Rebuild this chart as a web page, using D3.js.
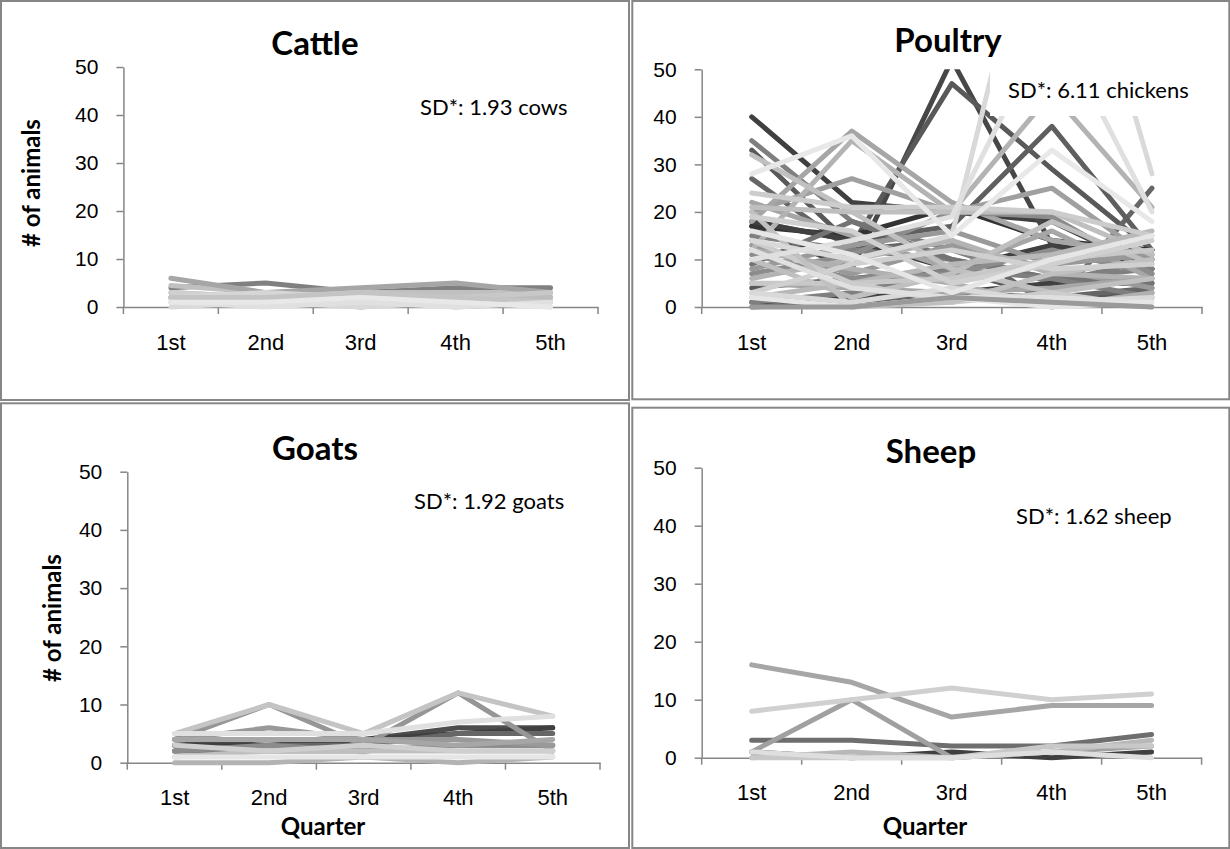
<!DOCTYPE html>
<html>
<head>
<meta charset="utf-8">
<script src="https://cdn.jsdelivr.net/npm/d3@7"></script>
<style>
  body { margin: 0; background: #fff; }
  svg { display: block; font-family: Lato, "Open Sans", sans-serif; }
</style>
</head>
<body>
<svg id="chart" width="1230" height="849"></svg>
<script>
var quarters = ["1st", "2nd", "3rd", "4th", "5th"];
var yTicks = [0, 10, 20, 30, 40, 50];

// one row per household, values per quarter
var cattle = [
  [4, 5, 3, 4, 4],
  [2, 2, 0, 2, 2],
  [3, 2, 2, 0, 1],
  [4.5, 3, 3, 3, 3],
  [6, 3, 4, 5, 3],
  [3, 2, 3, 1, 2],
  [2, 3, 2, 2, 1],
  [1, 2, 1, 2, 2],
  [2, 1, 1, 2, 3],
  [2, 2, 3, 2, 1],
  [0, 1, 0, 1, 0],
  [1, 0, 1, 0, 1],
  [1, 1, 2, 1, 0]
];
var poultry = [
  [40, 22, 20, 18, 8],
  [17, 8, 52, 13, 8],
  [33, 13, 47, 29, 12],
  [27, 12, 14, 0, 25],
  [35, 18, 12, 5, 10],
  [18, 14, 17, 38, 12],
  [17, 15, 21, 14, 12],
  [18, 14, 8, 13, 10],
  [15, 12, 10, 6, 8],
  [4, 6, 8, 2, 3],
  [1, 2, 3, 5, 5],
  [0, 1, 3, 2, 4],
  [9, 18, 10, 6, 5],
  [1, 3, 8, 6, 2],
  [11, 6, 7, 12, 7],
  [13, 7, 13, 8, 4],
  [20, 27, 20, 25, 10],
  [18, 37, 22, 14, 11],
  [22, 15, 8, 16, 6],
  [7, 11, 20, 19, 7],
  [8, 13, 16, 9, 11],
  [12, 35, 20, 45, 21],
  [6, 10, 14, 7, 6],
  [5, 4, 3, 4, 6],
  [12, 8, 5, 0, 3],
  [10, 2, 7, 18, 9],
  [21, 20, 20, 20, 11],
  [2, 5, 9, 11, 16],
  [32, 20, 8, 3, 6],
  [5, 5, 6, 10, 12],
  [24, 21, 21, 20, 15],
  [14, 5, 1, 3, 0],
  [20, 0, 1, 7, 10],
  [3, 9, 12, 8, 9],
  [19, 16, 5, 9, 14],
  [14, 10, 15, 100, 28],
  [3, 1, 4, 1, 2],
  [10, 14, 19, 61, 20],
  [12, 4, 2, 2, 1],
  [16, 11, 3, 10, 15],
  [2, 0, 2, 0, 1],
  [28, 36, 15, 33, 18],
  [0, 0, 2, 1, 0]
];
var goats = [
  [3, 4, 4, 6, 6],
  [3, 3, 4, 5, 6],
  [2, 3, 3, 5, 5],
  [2, 2, 2, 3, 3],
  [2, 3, 2, 3, 3],
  [4, 10, 3, 12, 2],
  [4, 6, 4, 4, 3],
  [4, 4, 4, 3, 4],
  [0, 0, 1, 0, 1],
  [1, 2, 2, 2, 2],
  [3, 2, 3, 2, 2],
  [5, 10, 5, 12, 8],
  [5, 5, 5, 7, 8],
  [1, 1, 1, 1, 1]
];
var sheep = [
  [1, 0, 1, 0, 1],
  [3, 3, 2, 2, 4],
  [1, 10, 0, 1, 2],
  [16, 13, 7, 9, 9],
  [0, 1, 0, 1, 3],
  [0, 0, 0, 2, 2],
  [8, 10, 12, 10, 11],
  [1, 0, 0, 1, 0]
];

// line colours (Excel monochrome palette), one per row above
var cattleColors = ["#808080", "#8c8c8c", "#b5b5b5", "#c0c0c0", "#a6a6a6", "#cfcfcf", "#d6d6d6",
  "#bdbdbd", "#c8c8c8", "#c4c4c4", "#d9d9d9", "#e0e0e0", "#e8e8e8"];
var poultryColors = ["#404040", "#474747", "#595959", "#666666", "#7f7f7f", "#5f5f5f", "#333333",
  "#404040", "#808080", "#595959", "#404040", "#666666", "#737373", "#7f7f7f", "#8c8c8c", "#999999",
  "#a0a0a0", "#a6a6a6", "#a6a6a6", "#8c8c8c", "#999999", "#b3b3b3", "#b3b3b3", "#a6a6a6", "#b0b0b0",
  "#bfbfbf", "#bfbfbf", "#b8b8b8", "#c0c0c0", "#c8c8c8", "#cccccc", "#cccccc", "#c0c0c0", "#d0d0d0",
  "#d0d0d0", "#d9d9d9", "#d9d9d9", "#e0e0e0", "#e0e0e0", "#e6e6e6", "#e6e6e6", "#e8e8e8", "#9a9a9a"];
var goatColors = ["#4d4d4d", "#404040", "#666666", "#7f7f7f", "#8c8c8c", "#969696", "#999999",
  "#a6a6a6", "#b3b3b3", "#bfbfbf", "#cfcfcf", "#c4c4c4", "#e0e0e0", "#e6e6e6"];
var sheepColors = ["#404040", "#6e6e6e", "#a0a0a0", "#a6a6a6", "#b8b8b8", "#c8c8c8", "#d0d0d0", "#dedede"];

var panels = [
  { title: "Cattle", rows: cattle, colors: cattleColors, sd: "SD*: 1.93 cows",
    frame: [1, 1, 628, 399], plot: { left: 123.4, right: 598, top: 67, bottom: 307 },
    titleX: 315, titleY: 55, sdX: 420, sdY: 115, yTitle: [40, 183], xTitle: null },
  { title: "Poultry", rows: poultry, colors: poultryColors, sd: "SD*: 6.11 chickens",
    frame: [632.3, 1, 597, 398.3], plot: { left: 701.7, right: 1202, top: 69.3, bottom: 307 },
    titleX: 948, titleY: 52, sdX: 1008, sdY: 98, yTitle: null, xTitle: null },
  { title: "Goats", rows: goats, colors: goatColors, sd: "SD*: 1.92 goats",
    frame: [1, 403.3, 628, 444.7], plot: { left: 127.3, right: 600, top: 471.7, bottom: 762.7 },
    titleX: 315, titleY: 460, sdX: 414, sdY: 509, yTitle: [61, 618], xTitle: [323, 835] },
  { title: "Sheep", rows: sheep, colors: sheepColors, sd: "SD*: 1.62 sheep",
    frame: [632.3, 407.7, 597, 440.3], plot: { left: 701.7, right: 1201.6, top: 467.7, bottom: 757.7 },
    titleX: 931, titleY: 463, sdX: 1016, sdY: 524, yTitle: null, xTitle: [925, 835] }
];

var axisColor = "#868686";
var svg = d3.select("#chart");

panels.forEach(function(p, pi) {
  var g = svg.append("g");

  g.append("rect")
      .attr("x", p.frame[0]).attr("y", p.frame[1])
      .attr("width", p.frame[2]).attr("height", p.frame[3])
      .attr("fill", "#fff")
      .attr("stroke", axisColor)
      .attr("stroke-width", 2);

  var x = d3.scaleBand().domain(quarters).range([p.plot.left, p.plot.right]).padding(0),
      y = d3.scaleLinear().domain([0, 50]).range([p.plot.bottom, p.plot.top]);

  // y axis
  var yAxis = d3.axisLeft(y).tickValues(yTicks).tickSize(7).tickSizeOuter(0).tickPadding(18);
  var gy = g.append("g")
      .attr("transform", "translate(" + p.plot.left + ",0)")
      .call(yAxis);
  gy.selectAll("path, line").attr("stroke", axisColor).attr("stroke-width", 1.5);
  gy.selectAll("text").attr("fill", "#000").style("font-size", "21px");

  // x axis: labels at band centres, tick marks at band edges
  var xAxis = d3.axisBottom(x).tickSize(0).tickPadding(27);
  var gx = g.append("g")
      .attr("transform", "translate(0," + p.plot.bottom + ")")
      .call(xAxis);
  gx.select(".domain").attr("stroke", axisColor).attr("stroke-width", 1.5);
  gx.selectAll("text").attr("fill", "#000").style("font-size", "22px");

  var edges = quarters.map(function(q) { return x(q); }).concat([p.plot.right]);
  g.selectAll(".xtick")
    .data(edges)
    .enter().append("line")
      .attr("class", "xtick")
      .attr("x1", function(d) { return d; })
      .attr("x2", function(d) { return d; })
      .attr("y1", p.plot.bottom)
      .attr("y2", p.plot.bottom + 7)
      .attr("stroke", axisColor)
      .attr("stroke-width", 1.5);

  // lines, clipped at the top of the plot area (axis max is 50)
  var clipId = "clip" + pi;
  svg.append("clipPath").attr("id", clipId)
    .append("rect")
      .attr("x", p.plot.left - 10)
      .attr("y", p.plot.top)
      .attr("width", p.plot.right - p.plot.left + 20)
      .attr("height", p.plot.bottom - p.plot.top + 10);

  var line = d3.line()
      .x(function(d, i) { return x(quarters[i]) + x.bandwidth() / 2; })
      .y(function(d) { return y(d); });

  g.append("g")
      .attr("clip-path", "url(#" + clipId + ")")
    .selectAll("path")
    .data(p.rows)
    .enter().append("path")
      .attr("d", line)
      .attr("fill", "none")
      .attr("stroke", function(d, i) { return p.colors[i]; })
      .attr("stroke-width", 5)
      .attr("stroke-linejoin", "round")
      .attr("stroke-linecap", "round");

  // titles
  g.append("text")
      .attr("x", p.titleX).attr("y", p.titleY)
      .attr("text-anchor", "middle")
      .style("font-size", "33px").style("font-weight", "bold")
      .text(p.title);

  if (p.yTitle) {
    g.append("text")
        .attr("transform", "translate(" + p.yTitle[0] + "," + p.yTitle[1] + ") rotate(-90)")
        .attr("text-anchor", "middle")
        .style("font-size", "24px").style("font-weight", "bold")
        .text("# of animals");
  }
  if (p.xTitle) {
    g.append("text")
        .attr("x", p.xTitle[0]).attr("y", p.xTitle[1])
        .attr("text-anchor", "middle")
        .style("font-size", "24px").style("font-weight", "bold")
        .text("Quarter");
  }

  // SD annotation sits in a white text box over the lines
  var sd = g.append("g");
  var box = sd.append("rect").attr("fill", "#fff");
  var sdText = sd.append("text")
      .attr("x", p.sdX).attr("y", p.sdY)
      .style("font-size", "22px")
      .text(p.sd);
  var w = sdText.node().getComputedTextLength();
  box.attr("x", p.sdX - 18).attr("y", p.sdY - 38)
     .attr("width", Math.min(w + 30, p.plot.right - p.sdX + 18))
     .attr("height", 56);
});
</script>
</body>
</html>
